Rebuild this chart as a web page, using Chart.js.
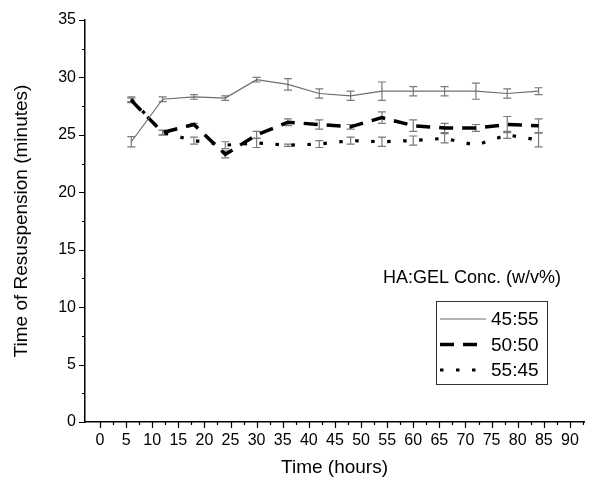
<!DOCTYPE html>
<html>
<head>
<meta charset="utf-8">
<script src="https://cdn.jsdelivr.net/npm/chart.js@4.4.0/dist/chart.umd.min.js"></script>
<style>
  body { margin: 0; background: #fff; }
  #wrap { width: 598px; height: 483px; }
</style>
</head>
<body>
<div id="wrap"><canvas id="chart" width="598" height="483"></canvas></div>
<script>
// sampling times (hours)
var hours = [6, 12, 18, 24, 30, 36, 42, 48, 54, 60, 66, 72, 78, 84];

// time of resuspension (minutes) and error per HA:GEL ratio
var res4555 = [24.4, 28.1, 28.3, 28.2, 29.8, 29.4, 28.6, 28.4, 28.8, 28.8, 28.8, 28.8, 28.6, 28.8];
var err4555 = [0.45, 0.2, 0.2, 0.2, 0.2, 0.5, 0.4, 0.4, 0.8, 0.4, 0.4, 0.7, 0.4, 0.3];
var res5050 = [28.0, 25.2, 25.9, 23.3, 25.0, 26.1, 25.9, 25.7, 26.5, 25.8, 25.6, 25.6, 25.9, 25.8];
var err5050 = [0.2, 0.2, 0.1, 0.3, 0.3, 0.3, 0.4, 0.2, 0.5, 0.5, 0.4, 0.3, 0.7, 0.6];
var res5545 = [28.1, 25.2, 24.5, 24.1, 24.3, 24.1, 24.2, 24.5, 24.4, 24.5, 24.7, 24.1, 25.0, 24.55];
var err5545 = [0.2, 0.2, 0.3, 0.3, 0.4, 0.1, 0.3, 0.3, 0.4, 0.4, 0.4, 0, 0.3, 0.6];

var seriesNames = ['45:55', '50:50', '55:45'];
var legendTitle = 'HA:GEL Conc. (w/v%)';

var xTickValues = [];
for (var t = 0; t <= 92.5; t += 2.5) xTickValues.push(t);
var yTickValues = [];
for (var u = 0; u <= 35; u += 2.5) yTickValues.push(u);

function pts(vals) {
  return hours.map(function (h, i) { return { x: h, y: vals[i] }; });
}

var FONT = '"Liberation Sans", Arial, sans-serif';
var errs = [err4555, err5050, err5545];

// error bars drawn under the lines
var errorBars = {
  id: 'errorBars',
  beforeDatasetsDraw: function (chart) {
    var ctx = chart.ctx, xs = chart.scales.x, ys = chart.scales.y;
    ctx.save();
    ctx.strokeStyle = '#7a7a7a';
    ctx.lineWidth = 1.2;
    chart.data.datasets.forEach(function (ds, di) {
      ds.data.forEach(function (p, i) {
        var e = errs[di][i];
        if (!e) return;
        var px = xs.getPixelForValue(p.x);
        var top = ys.getPixelForValue(p.y + e);
        var bot = ys.getPixelForValue(p.y - e);
        ctx.beginPath();
        ctx.moveTo(px, top); ctx.lineTo(px, bot);
        ctx.moveTo(px - 4, top); ctx.lineTo(px + 4, top);
        ctx.moveTo(px - 4, bot); ctx.lineTo(px + 4, bot);
        ctx.stroke();
      });
    });
    ctx.restore();
  }
};

// outward tick marks, long on labelled values
var tickMarks = {
  id: 'tickMarks',
  afterDraw: function (chart) {
    var ctx = chart.ctx, xs = chart.scales.x, ys = chart.scales.y, a = chart.chartArea;
    ctx.save();
    ctx.strokeStyle = '#000';
    ctx.lineWidth = 1.2;
    ctx.beginPath();
    xs.ticks.forEach(function (tk) {
      var px = Math.round(xs.getPixelForValue(tk.value)) + 0.5;
      var len = tk.value % 5 === 0 ? 6 : 3;
      ctx.moveTo(px, a.bottom); ctx.lineTo(px, a.bottom + len);
    });
    ys.ticks.forEach(function (tk) {
      var py = Math.round(ys.getPixelForValue(tk.value)) + 0.5;
      var len = tk.value % 5 === 0 ? 6 : 3;
      ctx.moveTo(a.left, py); ctx.lineTo(a.left - len, py);
    });
    ctx.stroke();
    ctx.restore();
  }
};

// boxed legend with a title above it
var boxLegend = {
  id: 'boxLegend',
  afterDraw: function (chart) {
    var ctx = chart.ctx;
    ctx.save();
    ctx.fillStyle = '#000';
    ctx.font = '18px ' + FONT;
    ctx.textBaseline = 'middle';
    ctx.textAlign = 'left';
    ctx.fillText(legendTitle, 383, 278);
    ctx.strokeStyle = '#333';
    ctx.lineWidth = 1;
    ctx.strokeRect(436.5, 301.5, 111, 83);
    ctx.font = '19px ' + FONT;
    chart.data.datasets.forEach(function (ds, i) {
      var y = 319 + i * 25.5;
      ctx.beginPath();
      ctx.strokeStyle = ds.borderColor;
      ctx.lineWidth = ds.borderWidth;
      ctx.setLineDash(ds.borderDash || []);
      ctx.moveTo(440, y); ctx.lineTo(486, y);
      ctx.stroke();
      ctx.setLineDash([]);
      ctx.fillText(seriesNames[i], 491, y + 1);
    });
    ctx.restore();
  }
};

new Chart(document.getElementById('chart'), {
  type: 'line',
  data: {
    datasets: [
      { label: seriesNames[0], data: pts(res4555), borderColor: '#6e6e6e', borderWidth: 1.2, pointRadius: 0, tension: 0 },
      { label: seriesNames[1], data: pts(res5050), borderColor: '#000', borderWidth: 3.5, borderDash: [14, 9], pointRadius: 0, tension: 0 },
      { label: seriesNames[2], data: pts(res5545), borderColor: '#000', borderWidth: 3.2, borderDash: [3.5, 12.5], pointRadius: 0, tension: 0 }
    ]
  },
  options: {
    responsive: false,
    animation: false,
    layout: { padding: { left: 6, top: 20, right: 14, bottom: 0 } },
    plugins: { legend: { display: false }, tooltip: { enabled: false } },
    scales: {
      x: {
        type: 'linear',
        min: -2.87,
        max: 92.7,
        afterBuildTicks: function (s) { s.ticks = xTickValues.map(function (v) { return { value: v }; }); },
        afterFit: function (s) { s.height = 61; },
        grid: { display: true, drawOnChartArea: false, drawTicks: true, tickLength: 6, color: 'rgba(0,0,0,0)' },
        border: { display: true, color: '#000', width: 1.5 },
        ticks: {
          autoSkip: false, maxRotation: 0, padding: 3, color: '#000',
          font: { family: FONT, size: 16 },
          callback: function (v) { return v % 5 === 0 ? String(v) : ''; }
        },
        title: { display: true, text: 'Time (hours)', color: '#000', font: { family: FONT, size: 19 }, padding: { top: 0, bottom: 4 } }
      },
      y: {
        min: 0,
        max: 35,
        afterBuildTicks: function (s) { s.ticks = yTickValues.map(function (v) { return { value: v }; }); },
        afterFit: function (s) { s.width = 79; },
        grid: { display: true, drawOnChartArea: false, drawTicks: true, tickLength: 6, color: 'rgba(0,0,0,0)' },
        border: { display: true, color: '#000', width: 1.5 },
        ticks: {
          autoSkip: false, padding: 3, color: '#000',
          font: { family: FONT, size: 16 },
          callback: function (v) { return v % 5 === 0 ? String(v) : ''; }
        },
        title: { display: true, text: 'Time of Resuspension (minutes)', color: '#000', font: { family: FONT, size: 19 }, padding: { top: 4, bottom: 0 } }
      }
    }
  },
  plugins: [errorBars, tickMarks, boxLegend]
});
</script>
</body>
</html>
